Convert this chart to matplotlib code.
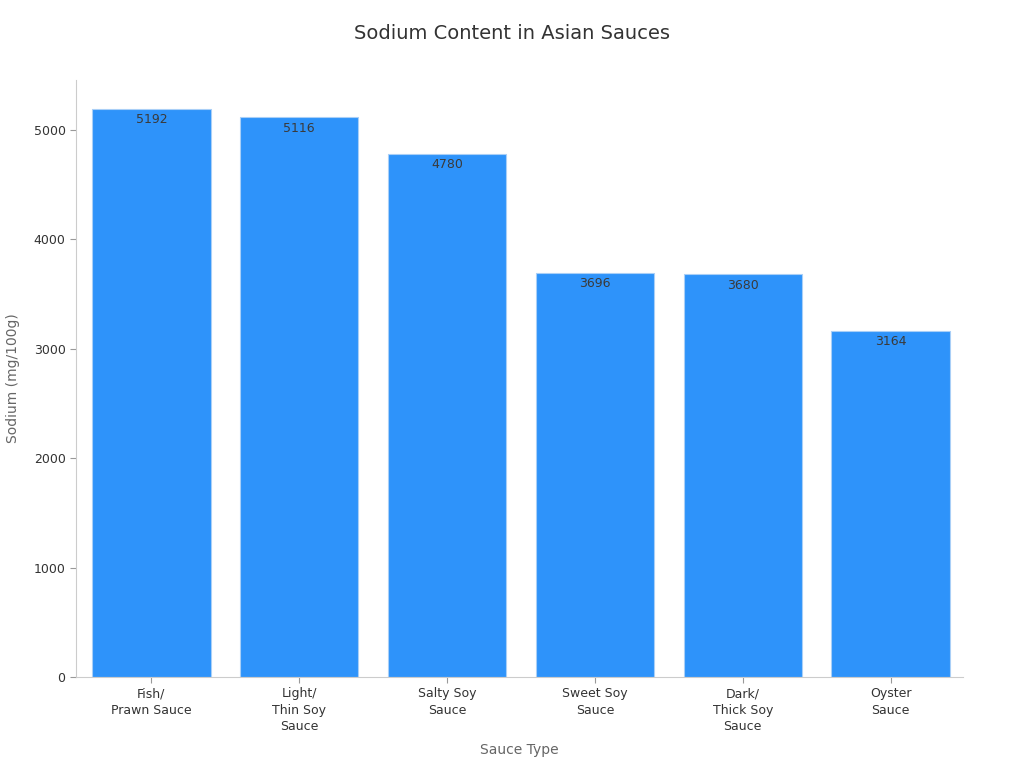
import matplotlib
matplotlib.use('Agg')
from matplotlib import pyplot as plt

sauces = ['Fish/\nPrawn Sauce', 'Light/\nThin Soy\nSauce', 'Salty Soy\nSauce',
          'Sweet Soy\nSauce', 'Dark/\nThick Soy\nSauce', 'Oyster\nSauce']
sodium = [5192, 5116, 4780, 3696, 3680, 3164]

plt.rcParams['font.family'] = 'DejaVu Sans'

fig = plt.figure(figsize=(10.24, 7.68), dpi=100)
ax = fig.add_axes([0.0742, 0.1185, 0.8662, 0.7773])

x = range(len(sauces))
bars = ax.bar(x, sodium, width=0.8, color='#2e93fa', edgecolor='#a9cff7', linewidth=0.8)

for xi, v in zip(x, sodium):
    ax.text(xi, v - 40, str(v), ha='center', va='top', fontsize=9, color='#3a3a3a')

ax.set_xlim(-0.51, 5.49)
ax.set_ylim(0, 5457)
ax.set_xticks(list(x))
ax.set_xticklabels(sauces, fontsize=9, color='#333333', linespacing=1.32)
ax.set_yticks([0, 1000, 2000, 3000, 4000, 5000])
ax.tick_params(axis='y', labelsize=9, labelcolor='#333333', color='#999999', length=4)
ax.tick_params(axis='x', color='#999999', length=4)

for s in ['top', 'right']:
    ax.spines[s].set_visible(False)
ax.spines['left'].set_color('#cccccc')
ax.spines['bottom'].set_color('#cccccc')

ax.set_xlabel('Sauce Type', fontsize=10, color='#666666', labelpad=7)
ax.set_ylabel('Sodium (mg/100g)', fontsize=10, color='#666666', labelpad=10)
fig.text(0.5, 0.957, 'Sodium Content in Asian Sauces', ha='center', va='center',
         fontsize=14, color='#333333')

fig.savefig('out.png', dpi=100)
